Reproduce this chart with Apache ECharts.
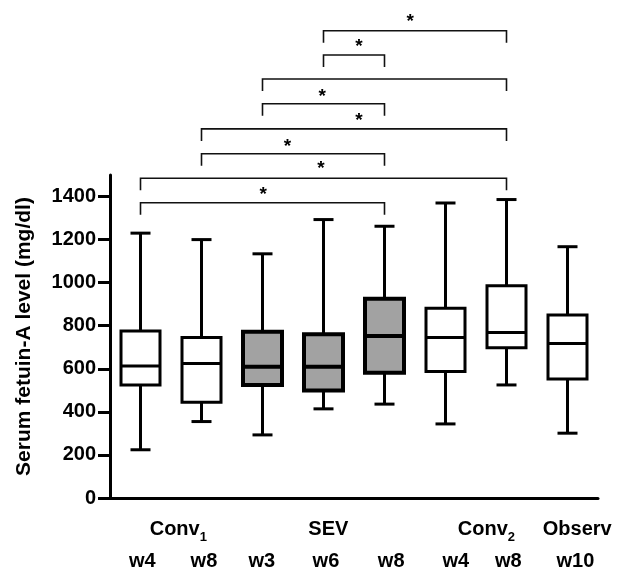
<!DOCTYPE html>
<html><head><meta charset="utf-8">
<script src="https://cdn.jsdelivr.net/npm/echarts@6/dist/echarts.min.js"></script>
<style>html,body{margin:0;padding:0;background:#fff}#c{width:617px;height:573px}</style>
</head><body><div id="c"></div>
<script>
// ---- data ----
const categories = ['Conv1 w4','Conv1 w8','SEV w3','SEV w6','SEV w8','Conv2 w4','Conv2 w8','Observ w10'];
const weekLabels = ['w4','w8','w3','w6','w8','w4','w8','w10'];
const groupNames = ['Conv','SEV','Conv','Observ'];
const groupSubs = ['1','','2',''];
const whiskerLow  = [224, 355, 293, 414, 436, 344, 525, 301];
const q1          = [525, 445, 525, 499, 582, 587, 698, 553];
const median      = [613, 625, 610, 610, 752, 745, 768, 718];
const q3          = [776, 745, 772, 760, 925, 881, 986, 850];
const whiskerHigh = [1230,1200,1134,1293,1262,1370,1386,1167];
const shaded      = [0, 0, 1, 1, 1, 0, 0, 0];
// brackets: [from index, to index, level value]
const bracketFrom = [3, 3, 2, 2, 1, 1, 0, 0];
const bracketTo   = [6, 4, 6, 4, 6, 4, 6, 4];
const bracketLevel= [2170, 2057, 1946, 1831, 1714, 1599, 1485, 1371];
// significance stars: [x position (category units), value]
const starX = [4.42, 3.58, 2.98, 3.58, 2.41, 2.96, 2.01];
const starY = [2234, 2118, 1885, 1774, 1655, 1551, 1430];
const yTicks = [0, 200, 400, 600, 800, 1000, 1200, 1400];
// label anchor positions along x (category units)
const weekLabelPos = [0.03, 1.04, 1.99, 3.04, 4.11, 5.17, 6.03, 7.13];
const groupLabelPos = [0.62, 3.08, 5.67, 7.16];

const FONT = "'Liberation Sans', Arial, Helvetica, sans-serif";
const chart = echarts.init(document.getElementById('c'), null, {renderer: 'canvas'});

const boxData = categories.map((c, i) => [i, whiskerLow[i], q1[i], median[i], q3[i], whiskerHigh[i], shaded[i]]);
const bracketData = bracketFrom.map((f, i) => [f, bracketTo[i], bracketLevel[i]]);
const starData = starX.map((x, i) => [x, starY[i]]);

function nearestIndex(arr, v) {
  let best = 0;
  arr.forEach((a, i) => { if (Math.abs(a - v) < Math.abs(arr[best] - v)) best = i; });
  return best;
}

const option = {
  animation: false,
  backgroundColor: '#fff',
  grid: {left: 110, right: 19, top: 175, bottom: 75, containLabel: false},
  xAxis: [{
    type: 'value', min: -0.5, max: 7.5, position: 'bottom',
    axisLine: {show: true, onZero: false, lineStyle: {color: '#000', width: 3}},
    axisTick: {show: false},
    splitLine: {show: false},
    axisLabel: {
      customValues: weekLabelPos, margin: 53,
      fontSize: 20, fontWeight: 'bold', color: '#000', fontFamily: FONT,
      formatter: v => weekLabels[nearestIndex(weekLabelPos, v)]
    }
  }, {
    type: 'value', min: -0.5, max: 7.5, position: 'bottom',
    axisLine: {show: false, onZero: false}, axisTick: {show: false}, splitLine: {show: false},
    axisLabel: {
      customValues: groupLabelPos, margin: 20,
      formatter: v => {
        const k = nearestIndex(groupLabelPos, v);
        return '{n|' + groupNames[k] + '}' + (groupSubs[k] ? '{s|' + groupSubs[k] + '}' : '');
      },
      rich: {
        n: {fontSize: 20, fontWeight: 'bold', color: '#000', fontFamily: FONT, lineHeight: 22},
        s: {fontSize: 13, fontWeight: 'bold', color: '#000', fontFamily: FONT, lineHeight: 22, padding: [16, 0, 0, 0]}
      }
    }
  }],
  yAxis: {
    type: 'value', min: 0, max: 1500,
    axisLine: {show: true, onZero: false, lineStyle: {color: '#000', width: 3}},
    axisTick: {show: true, length: 12, customValues: yTicks, lineStyle: {color: '#000', width: 3}},
    axisLabel: {customValues: yTicks, margin: 14, fontSize: 20, fontWeight: 'bold', color: '#000', fontFamily: FONT,
      formatter: v => String(v)},
    splitLine: {show: false},
    name: 'Serum fetuin-A level (mg/dl)', nameLocation: 'middle', nameGap: 75,
    nameTextStyle: {fontSize: 21, fontWeight: 'bold', color: '#000', fontFamily: FONT}
  },
  series: [{
    type: 'custom', xAxisIndex: 0, clip: false,
    encode: {x: 0, y: [1, 2, 3, 4, 5]},
    data: boxData,
    renderItem: (params, api) => {
      const x = api.value(0);
      const cx = api.coord([x, 0])[0];
      const yLow = api.coord([x, api.value(1)])[1];
      const yQ1 = api.coord([x, api.value(2)])[1];
      const yMed = api.coord([x, api.value(3)])[1];
      const yQ3 = api.coord([x, api.value(4)])[1];
      const yHigh = api.coord([x, api.value(5)])[1];
      const filled = api.value(6) === 1;
      const lw = filled ? 4 : 3;
      const half = 19.5, cap = 10;
      const ls = {stroke: '#000', lineWidth: 3};
      return {type: 'group', children: [
        {type: 'line', shape: {x1: cx, y1: yLow, x2: cx, y2: yQ1}, style: ls},
        {type: 'line', shape: {x1: cx, y1: yQ3, x2: cx, y2: yHigh}, style: ls},
        {type: 'line', shape: {x1: cx - cap, y1: yLow, x2: cx + cap, y2: yLow}, style: ls},
        {type: 'line', shape: {x1: cx - cap, y1: yHigh, x2: cx + cap, y2: yHigh}, style: ls},
        {type: 'rect', shape: {x: cx - half, y: yQ3, width: half * 2, height: yQ1 - yQ3},
          style: {fill: filled ? '#a2a2a2' : '#fff', stroke: '#000', lineWidth: lw}},
        {type: 'line', shape: {x1: cx - half, y1: yMed, x2: cx + half, y2: yMed}, style: {stroke: '#000', lineWidth: lw}}
      ]};
    }
  }, {
    type: 'custom', xAxisIndex: 0, clip: false,
    encode: {x: [0, 1], y: 2},
    data: bracketData,
    renderItem: (params, api) => {
      const a = api.coord([api.value(0), api.value(2)]);
      const b = api.coord([api.value(1), api.value(2)]);
      const leg = 12;
      return {type: 'polyline', shape: {points: [[a[0], a[1] + leg], [a[0], a[1]], [b[0], b[1]], [b[0], b[1] + leg]]},
        style: {stroke: '#111', lineWidth: 1.6, fill: null}};
    }
  }, {
    type: 'custom', xAxisIndex: 0, clip: false,
    encode: {x: 0, y: 1},
    data: starData,
    renderItem: (params, api) => {
      const p = api.coord([api.value(0), api.value(1)]);
      const fs = 19;
      return {type: 'text', x: p[0], y: p[1] + fs * 0.27,
        style: {text: '*', fontSize: fs, fontWeight: 'bold', fontFamily: FONT, fill: '#000', align: 'center', verticalAlign: 'middle'}};
    }
  }]
};
chart.setOption(option);
</script></body></html>
